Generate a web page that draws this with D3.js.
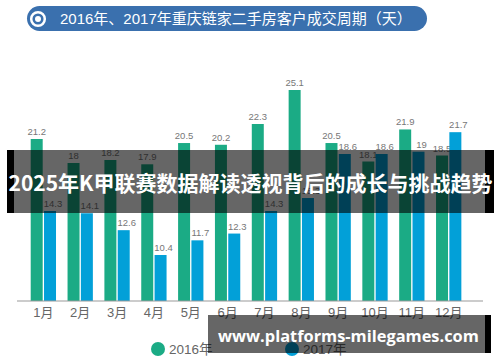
<!DOCTYPE html>
<html>
<head>
<meta charset="utf-8">
<script src="https://cdn.jsdelivr.net/npm/d3@7"></script>
<style>
  html, body { margin: 0; padding: 0; background: #fff; }
  svg { display: block; }
  text { font-family: "Liberation Sans", "Noto Sans CJK SC", sans-serif; }
  .banner { font-family: "Noto Sans CJK SC", sans-serif; font-weight: 700; }
  .site { font-family: "Open Sans", sans-serif; font-weight: 700; }
</style>
</head>
<body>
<svg id="chart" width="500" height="362"></svg>
<script>
const months = ['1月', '2月', '3月', '4月', '5月', '6月', '7月', '8月', '9月', '10月', '11月', '12月'];
const seriesNames = ['2016年', '2017年'];
const values2016 = [21.2, 18, 18.2, 17.9, 20.5, 20.2, 22.3, 25.1, 20.5, 18.1, 21.9, 18.5];
const values2017 = [14.3, 14.1, 12.6, 10.4, 11.7, 12.3, 14.3, 15.3, 18.6, 18.6, 19, 21.7];
const colors = ['#1bab85', '#02a0d8'];

const titleText = '2016年、2017年重庆链家二手房客户成交周期（天）';
const bannerText = '2025年K甲联赛数据解读透视背后的成长与挑战趋势';
const siteText = 'www.platforms-milegames.com';

const svg = d3.select('#chart');

// title pill
svg.append('rect')
    .attr('x', 27).attr('y', 6)
    .attr('width', 400).attr('height', 25)
    .attr('rx', 12.5)
    .attr('fill', '#3a70ae');

svg.append('circle')
    .attr('cx', 38).attr('cy', 19).attr('r', 6.8)
    .attr('fill', 'none').attr('stroke', '#fff').attr('stroke-width', 2.5);
svg.append('circle')
    .attr('cx', 38).attr('cy', 19).attr('r', 3)
    .attr('fill', '#fff');

svg.append('text')
    .attr('x', 60).attr('y', 24)
    .attr('font-size', 15)
    .attr('fill', '#fff')
    .text(titleText);

const xMonth = d3.scaleBand()
    .domain(months)
    .range([30.7, 30.7 + 36.85 * 12 - 11.55])
    .paddingInner(0.313);

const xSeries = d3.scaleBand()
    .domain(seriesNames)
    .range([0, xMonth.bandwidth()])
    .paddingInner(0.1);

// the source picture does not draw its bars strictly to scale, so the
// scale is pinned to what was measured at a few values
const y = d3.scaleLinear()
    .domain([6.33, 10.4, 14.3, 18, 18.6, 21.2, 22.3, 25.1])
    .range([301, 255, 211, 163, 154, 139, 124, 90]);

const allValues = [values2016, values2017];

// nudges for labels that sit off centre in the source
const labelShift = [0, 3];

const groups = svg.selectAll('.series')
    .data(seriesNames)
    .enter()
    .append('g')
    .attr('class', 'series');

groups.each(function(name, s) {
    const g = d3.select(this);

    g.selectAll('rect')
        .data(allValues[s])
        .enter()
        .append('rect')
        .attr('x', (d, i) => xMonth(months[i]) + xSeries(name))
        .attr('y', d => y(d))
        .attr('width', xSeries.bandwidth())
        .attr('height', d => y.range()[0] - y(d))
        .attr('fill', colors[s]);

    g.selectAll('text')
        .data(allValues[s])
        .enter()
        .append('text')
        .attr('x', (d, i) => xMonth(months[i]) + xSeries(name) + xSeries.bandwidth() / 2 + labelShift[s])
        .attr('y', d => y(d) - 4)
        .attr('text-anchor', 'middle')
        .attr('font-size', 9.5)
        .attr('fill', '#777')
        .text(d => d);
});

// month axis
const axis = svg.append('g')
    .attr('transform', 'translate(0,301)')
    .call(d3.axisBottom(xMonth).tickSize(0).tickPadding(7));
axis.select('.domain').remove();
axis.selectAll('text')
    .attr('font-size', 13)
    .attr('fill', '#666');

svg.append('line')
    .attr('x1', 17).attr('x2', 483)
    .attr('y1', 301).attr('y2', 301)
    .attr('stroke', '#999')
    .attr('stroke-width', 1);

// legend
const legendX = [158, 292];
const legend = svg.selectAll('.legend')
    .data(seriesNames)
    .enter()
    .append('g')
    .attr('class', 'legend')
    .attr('transform', (d, i) => 'translate(' + legendX[i] + ',349)');

legend.append('circle')
    .attr('r', 7)
    .attr('fill', (d, i) => colors[i]);

legend.append('text')
    .attr('x', 11).attr('y', 5)
    .attr('font-size', 13.5)
    .attr('fill', '#666')
    .text(d => d);

// dark promo strips laid over the chart, black where they run past the image
svg.append('rect')
    .attr('x', 7).attr('y', 150)
    .attr('width', 7).attr('height', 63)
    .attr('fill', '#000');
svg.append('rect')
    .attr('x', 485).attr('y', 150)
    .attr('width', 9).attr('height', 63)
    .attr('fill', '#000');
svg.append('rect')
    .attr('x', 14).attr('y', 150)
    .attr('width', 471).attr('height', 63)
    .attr('fill', '#000').attr('fill-opacity', 0.6);

svg.append('text')
    .attr('class', 'banner')
    .attr('x', 250.5).attr('y', 191)
    .attr('text-anchor', 'middle')
    .attr('font-size', 21)
    .attr('fill', '#fff')
    .text(bannerText);

svg.append('rect')
    .attr('x', 208).attr('y', 315)
    .attr('width', 277).attr('height', 38)
    .attr('fill', '#000').attr('fill-opacity', 0.6);
svg.append('rect')
    .attr('x', 485).attr('y', 315)
    .attr('width', 6).attr('height', 38)
    .attr('fill', '#000');

svg.append('text')
    .attr('class', 'site')
    .attr('x', 218).attr('y', 342)
    .attr('font-size', 16.4)
    .attr('fill', '#fff')
    .text(siteText);
</script>
</body>
</html>
